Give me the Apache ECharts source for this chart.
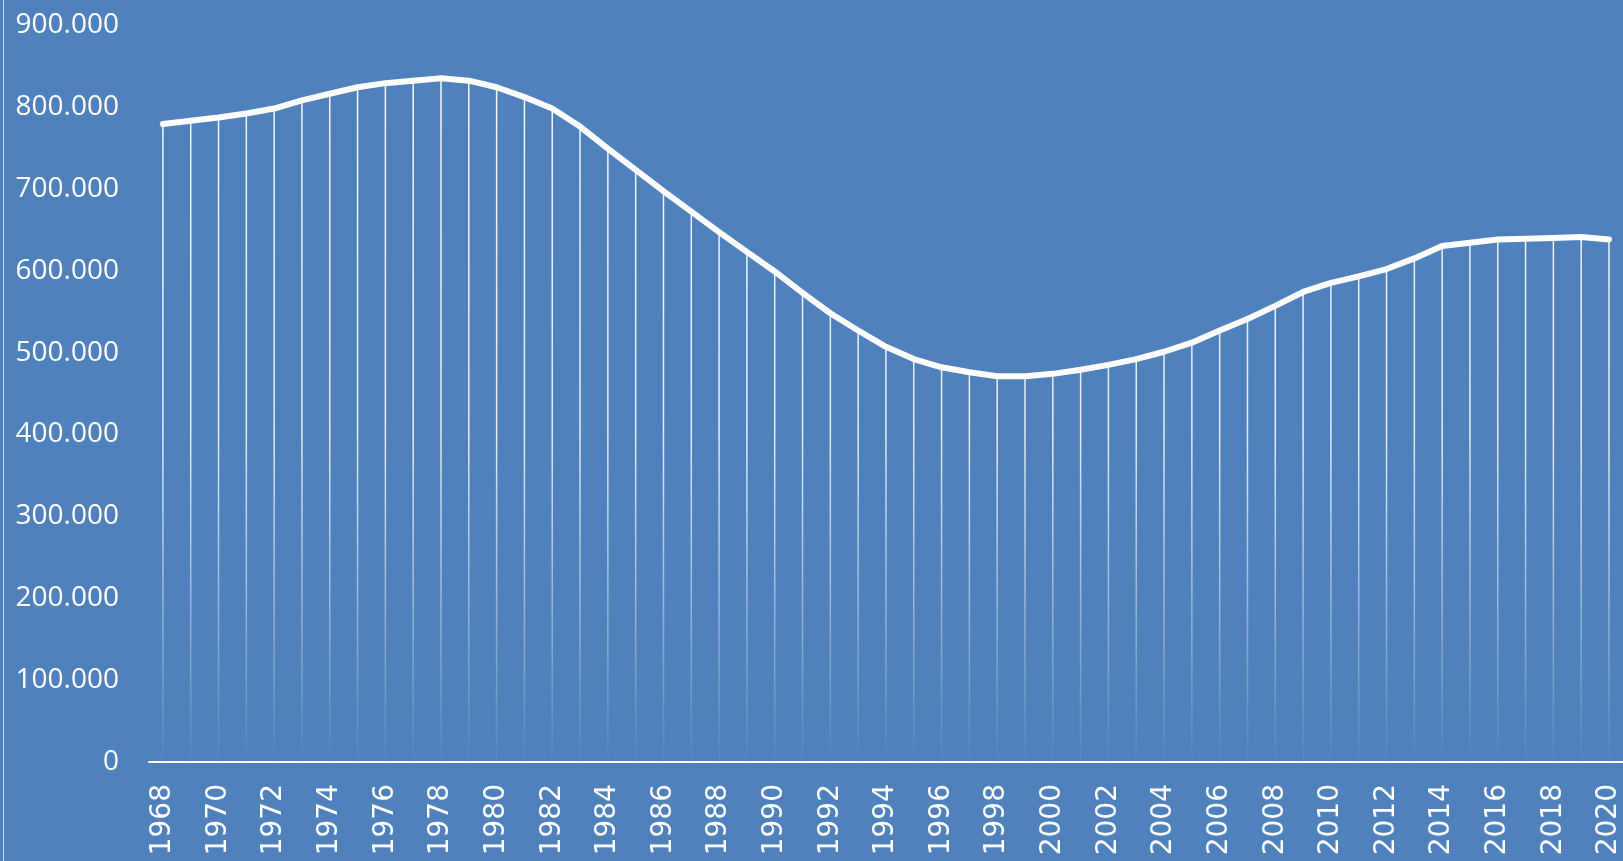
<!DOCTYPE html>
<html>
<head>
<meta charset="utf-8">
<script src="https://cdn.jsdelivr.net/npm/echarts@6/dist/echarts.min.js"></script>
<style>
  html, body { margin: 0; padding: 0; background: #4f81bd; }
  #chart { width: 1623px; height: 861px; }
  .edge { position: absolute; left: 3px; top: 0; width: 1px; height: 861px; background: #c9d6e8; }
</style>
</head>
<body>
<div id="chart"></div>
<div class="edge"></div>
<script>
// years on the category axis
const years = []
for (let y = 1968; y <= 2020; y++) years.push(String(y))

// values
const values = [
  779000, 783000, 787000, 792000, 798000, 808000, 816000, 824000, 829000, 832000,
  835000, 832000, 824000, 812000, 798000, 776000, 749000, 723000, 697000, 672000,
  647000, 623000, 599000, 573000, 548000, 527000, 507000, 492000, 482000, 476000,
  471000, 471000, 474000, 479000, 485000, 492000, 501000, 512000, 527000, 541000,
  557000, 574000, 585000, 593000, 602000, 615000, 630000, 634000, 638000, 639000,
  640000, 641000, 638000
]

const yTicks = { min: 0, max: 900000, step: 100000 }

function fmtThousands(v) {
  if (v === 0) return '0'
  return String(v).replace(/\B(?=(\d{3})+(?!\d))/g, '.')
}

const chart = echarts.init(document.getElementById('chart'), null, { renderer: 'canvas' })

const dropFade = new echarts.graphic.LinearGradient(0, 25, 0, 762, [
  { offset: 0, color: 'rgba(255,255,255,0.95)' },
  { offset: 0.55, color: 'rgba(255,255,255,0.85)' },
  { offset: 1, color: 'rgba(255,255,255,0.02)' }
], true)

chart.setOption({
  animation: false,
  backgroundColor: '#4f81bd',
  grid: { left: 149, right: 0, top: 25, bottom: 99 },
  xAxis: {
    type: 'category',
    data: years,
    boundaryGap: true,
    axisLine: { lineStyle: { color: '#ffffff', width: 2 } },
    axisTick: { show: false },
    axisLabel: {
      interval: 1,
      rotate: 90,
      margin: 22,
      color: '#ffffff',
      fontSize: 28,
      fontFamily: 'DejaVu Sans'
    },
    splitLine: { show: false }
  },
  yAxis: {
    type: 'value',
    min: yTicks.min,
    max: yTicks.max,
    interval: yTicks.step,
    axisLine: { show: false },
    axisTick: { show: false },
    splitLine: { show: false },
    axisLabel: {
      margin: 30,
      color: '#ffffff',
      fontSize: 28,
      fontFamily: 'Open Sans',
      formatter: fmtThousands
    }
  },
  series: [
    {
      // thin drop lines from each point down to the axis
      type: 'bar',
      data: values,
      barWidth: 1.5,
      itemStyle: { color: dropFade },
      silent: true,
      z: 1
    },
    {
      type: 'line',
      data: values,
      showSymbol: false,
      smooth: false,
      lineStyle: { color: '#ffffff', width: 6, cap: 'round', join: 'round' },
      z: 3
    }
  ]
})
</script>
</body>
</html>
